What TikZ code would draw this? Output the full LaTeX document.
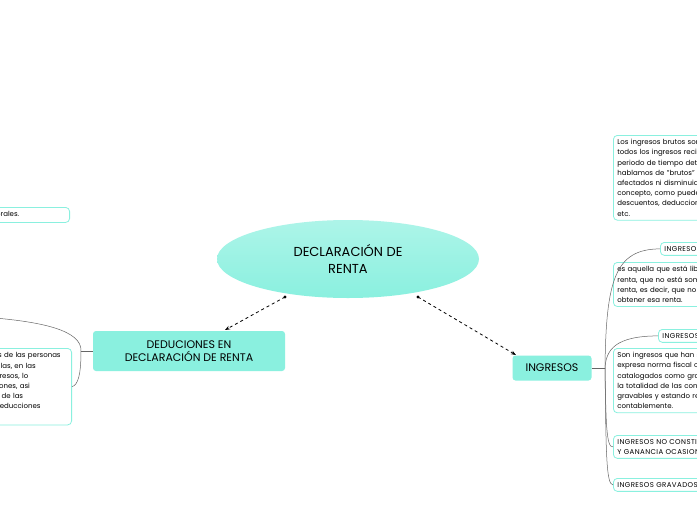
\documentclass[tikz,border=0pt]{standalone}
\usepackage{fontspec}
\setmainfont{Poppins}
\usetikzlibrary{shapes.geometric,arrows.meta}
\begin{document}
\begin{tikzpicture}[x=1pt,y=-1pt,
  topic/.style={rounded corners=3pt,fill=aqua,draw=none,align=center,font=\fontsize{11}{13}\selectfont},
  sub/.style={rounded corners=4pt,draw=aqua,line width=0.8pt,fill=white,align=left,font=\fontsize{7}{10.2}\selectfont,inner sep=4pt,anchor=north west},
  dline/.style={dashed,line width=0.8pt},
  cline/.style={draw=gray!80!black,line width=0.5pt}]
\definecolor{aqua}{HTML}{8AF0DF}
\useasboundingbox (0,0) rectangle (697,520);
\clip (0,0) rectangle (697,520);
\fill[white] (0,0) rectangle (697,520);
% central
\node[ellipse,minimum width=262pt,minimum height=78pt,inner sep=0pt,top color=aqua!70!white,bottom color=aqua,align=center,font=\fontsize{13}{17}\selectfont] (c) at (348,259) {DECLARACIÓN DE\\RENTA};
\node[topic,minimum width=192pt,minimum height=40pt] (d) at (189,351) {DEDUCIONES EN\\DECLARACIÓN DE RENTA};
\node[topic,minimum width=79pt,minimum height=25pt] (i) at (552,368) {INGRESOS};
\coordinate (c1) at (285,297);
\coordinate (c2) at (418,297);
\fill (c1) circle (1.6pt); \fill (c2) circle (1.6pt);
\draw[dline,-{Stealth[length=5pt]}] (c1) -- (225,330);
\draw[dline,-{Stealth[length=5pt]}] (c2) -- (516,355);
% right boxes
\node[sub,text width=200pt] (r1) at (613,135) {Los ingresos brutos son\\todos los ingresos recibidos en un\\periodo de tiempo determinado,\\hablamos de "brutos" porque no son\\afectados ni disminuidos por ningún\\concepto, como pueden ser\\descuentos, deducciones, costos,\\etc.};
\node[sub,anchor=north west,font=\fontsize{7}{8}\selectfont\addfontfeatures{LetterSpace=6}] (l1) at (660,242) {INGRESOS BRUTOS};
\node[sub,text width=200pt] (r2) at (613,262) {es aquella que está libre de\\renta, que no está sometida a\\renta, es decir, que no paga\\obtener esa renta.};
\node[sub,anchor=north west,font=\fontsize{7}{8}\selectfont\addfontfeatures{LetterSpace=6}] (l2) at (658,329) {INGRESOS EXENTOS};
\node[sub,text width=200pt] (r3) at (613,348) {Son ingresos que han sido\\expresa norma fiscal como\\catalogados como gravables en\\la totalidad de las condiciones\\gravables y estando registrados\\contablemente.};
\node[sub,font=\fontsize{7}{10}\selectfont\addfontfeatures{LetterSpace=6}] (r4) at (613,435) {INGRESOS NO  CONSTITUTIVOS DE RENTA\\Y GANANCIA OCASIONAL};
\node[sub,font=\fontsize{7}{8}\selectfont\addfontfeatures{LetterSpace=6}] (r5) at (613,478) {INGRESOS GRAVADOS};
% right connectors
\coordinate (ih) at (605,368);
\draw[cline] (i.east) -- (ih);
\draw[cline] (ih) .. controls (606,280) and (615,249) .. (l1.west);
\draw[cline] (ih) .. controls (606,350) and (615,336) .. (l2.west);
\draw[cline] (ih) .. controls (606,420) and (606,448) .. (r4.west);
\draw[cline] (ih) .. controls (606,450) and (606,485) .. (r5.west);
% left boxes
\node[sub,anchor=north east,text width=160pt] (x1) at (70,207) {Ingresos de rentas no laborales.};
\node[sub,anchor=north east,text width=165pt] (x2) at (72,348) {La depuración de las rentas de las personas\\naturales se hace por cédulas, en las\\cuales se restan de sus ingresos, lo\\que se consideran deducciones, asi\\que cada cédula tiene una de las\\cuales tiene su propia de deducciones\\y rentas exentas propias.};
\coordinate (dh) at (81,351);
\draw[cline] (d.west) -- (dh);
\draw[cline] (dh) .. controls (82,330) and (40,322) .. (-5,318);
\draw[cline] (dh) .. controls (81,375) and (78,385) .. (x2.east);
\end{tikzpicture}
\end{document}
